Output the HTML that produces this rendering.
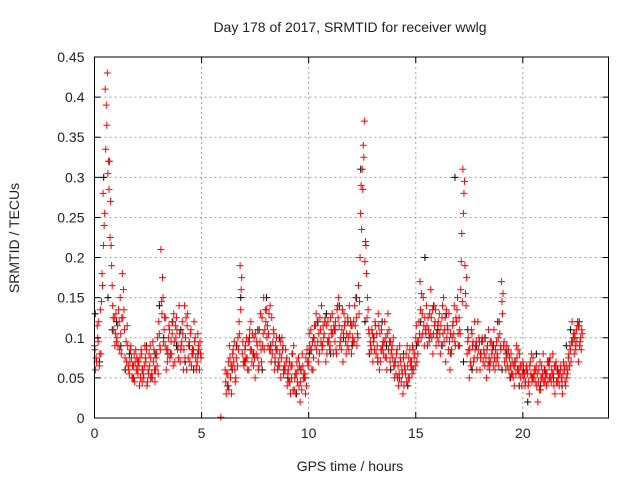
<!DOCTYPE html>
<html><head><meta charset="utf-8"><style>
body{margin:0;background:#fff;}
svg text{font-family:"Liberation Sans",sans-serif;fill:#222;}
</style></head><body>
<svg id="chart" width="640" height="480" xmlns="http://www.w3.org/2000/svg">
<text x="350" y="32" font-size="14" text-anchor="middle">Day 178 of 2017, SRMTID for receiver wwlg</text>
<text x="350" y="471" font-size="14" text-anchor="middle">GPS time / hours</text>
<text x="19" y="238" font-size="14" text-anchor="middle" transform="rotate(-90 19 238)">SRMTID / TECUs</text>
<g id="grid"></g><g id="blk"></g><g id="red"></g><g id="axes"></g>
</svg>
<script>
const xTicks=[0,5,10,15,20];
const yTicks=[0,0.05,0.1,0.15,0.2,0.25,0.3,0.35,0.4,0.45];
const yTickLabels=["0","0.05","0.1","0.15","0.2","0.25","0.3","0.35","0.4","0.45"];
const redStepHours=0.1;
const redAValues=[.09,.07,.12,.08,.28,.41,.43,.32,.19,.11,
.13,.09,.15,.18,.11,.07,.06,.09,.05,.07,
.06,.04,.08,.05,.07,.06,.09,.05,.06,.08,
.12,.21,.15,.09,.07,.11,.08,.13,.10,.09,
.07,.12,.14,.06,.09,.11,.08,.10,.07,.06,
null,null,null,null,null,null,null,null,null,.001,
null,.06,.04,.09,.03,.07,.05,.10,.19,.08,
.07,.10,.06,.12,.08,.05,.09,.11,.07,.15,
.12,.09,.14,.08,.06,.10,.07,.05,.09,.06,
.04,.07,.05,.09,.03,.06,.02,.08,.05,.04,
.07,.11,.06,.09,.12,.08,.14,.10,.07,.12,
.09,.13,.11,.08,.15,.10,.07,.12,.09,.14,
.08,.12,.15,.10,.20,.31,.37,.18,.11,.09,
.07,.12,.09,.06,.11,.08,.10,.13,.07,.09,
.05,.08,.04,.07,.03,.06,.09,.05,.07,.06,
.10,.08,.17,.13,.09,.14,.11,.16,.08,.12,
.10,.13,.09,.15,.07,.11,.06,.10,.14,.12,
.09,.16,.31,.19,.08,.05,.11,.07,.09,.12,
.06,.10,.08,.05,.11,.07,.09,.06,.08,.12,
.17,.09,.06,.08,.05,.07,.04,.09,.06,.05,
.07,.04,.06,.03,.08,.05,.06,.02,.07,.05,
.06,.04,.07,.05,.08,.03,.06,.04,.05,.07,
.04,.06,.09,.12,.08,.11,.07,.10];
const redBValues=[.06,.10,.08,.18,.24,.39,.32,.27,.14,.09,
.10,.12,.08,.16,.06,.09,.07,.05,.08,.06,
.07,.05,.06,.09,.04,.08,.05,.07,.06,.10,
.09,.13,.11,.06,.10,.08,.12,.07,.11,.14,
.09,.06,.10,.13,.07,.08,.12,.06,.09,.08,
null,null,null,null,null,null,null,null,null,null,
null,.03,.07,.05,.08,.06,.09,.12,.16,.07,
.09,.06,.11,.07,.10,.08,.06,.13,.09,.11,
.10,.13,.07,.11,.09,.06,.08,.10,.06,.07,
.06,.03,.08,.05,.07,.04,.06,.05,.03,.07,
.09,.06,.10,.13,.07,.11,.09,.12,.08,.10,
.11,.08,.12,.14,.09,.11,.13,.08,.10,.12,
.10,.14,.09,.13,.29,.34,.22,.15,.08,.11,
.10,.08,.13,.07,.09,.12,.06,.11,.08,.10,
.07,.05,.09,.06,.04,.08,.05,.07,.09,.08,
.07,.12,.10,.15,.11,.09,.13,.10,.14,.09,
.12,.08,.14,.11,.10,.13,.08,.12,.09,.15,
.11,.23,.28,.14,.10,.07,.09,.12,.06,.10,
.08,.07,.10,.09,.06,.08,.11,.07,.10,.09,
.13,.07,.09,.06,.08,.05,.07,.06,.08,.04,
.05,.06,.04,.07,.05,.06,.04,.06,.05,.08,
.05,.07,.05,.06,.04,.07,.05,.06,.03,.06,
.05,.08,.07,.10,.09,.12,.09,.11];
const redCValues=[.085,.115,.065,.145,.215,.335,.305,.225,.165,.125,
.095,.135,.105,.125,.075,.115,.055,.075,.065,.085,
.055,.075,.045,.065,.085,.055,.075,.095,.045,.065,
.105,.145,.095,.125,.085,.075,.105,.095,.125,.075,
.085,.105,.075,.115,.095,.065,.085,.075,.105,.095,
null,null,null,null,null,null,null,null,null,null,
null,.045,.055,.075,.065,.095,.075,.085,.135,.095,
.085,.075,.095,.085,.065,.105,.075,.095,.125,.085,
.135,.105,.085,.095,.075,.085,.065,.075,.055,.085,
.055,.045,.065,.035,.055,.075,.045,.065,.055,.085,
.105,.085,.075,.115,.095,.125,.085,.105,.115,.095,
.125,.105,.095,.135,.115,.085,.105,.095,.125,.105,
.115,.095,.125,.165,.255,.285,.195,.125,.105,.085,
.095,.115,.075,.105,.085,.095,.075,.085,.095,.075,
.065,.085,.055,.045,.075,.055,.065,.085,.055,.075,
.115,.095,.135,.105,.125,.115,.095,.125,.105,.135,
.115,.105,.125,.095,.135,.085,.105,.115,.095,.135,
.125,.195,.255,.155,.095,.085,.105,.075,.095,.085,
.075,.095,.065,.085,.075,.095,.065,.085,.075,.105,
.145,.095,.075,.085,.065,.055,.065,.075,.055,.065,
.065,.045,.055,.065,.045,.055,.065,.045,.035,.055,
.045,.055,.065,.045,.055,.065,.045,.055,.045,.065,
.065,.075,.085,.095,.105,.095,.115,.085];
const redDValues=[.075,.095,.135,.165,.255,.365,.285,.215,.125,.105,
.115,.085,.125,.135,.095,.065,.085,.065,.045,.075,
.065,.085,.055,.075,.045,.065,.055,.085,.075,.055,
.085,.175,.125,.085,.115,.095,.065,.115,.085,.105,
.095,.085,.125,.075,.105,.085,.095,.065,.085,.075,
null,null,null,null,null,null,null,null,null,null,
null,.055,.035,.065,.085,.045,.065,.105,.175,.065,
.075,.095,.085,.105,.075,.095,.065,.085,.105,.135,
.115,.085,.125,.105,.085,.065,.095,.085,.065,.075,
.045,.065,.035,.055,.045,.065,.035,.055,.075,.065,
.085,.095,.115,.085,.105,.095,.115,.125,.095,.085,
.105,.115,.085,.125,.095,.135,.115,.105,.085,.115,
.095,.115,.105,.145,.235,.325,.215,.135,.095,.105,
.085,.105,.115,.085,.095,.075,.105,.095,.085,.065,
.055,.065,.075,.055,.065,.045,.075,.065,.085,.065,
.095,.105,.155,.115,.105,.125,.105,.135,.115,.105,
.095,.115,.105,.125,.115,.095,.085,.105,.125,.105,
.105,.145,.295,.175,.085,.065,.095,.085,.075,.095,
.095,.085,.075,.065,.095,.085,.075,.095,.065,.085,
.155,.085,.065,.075,.055,.065,.055,.085,.065,.055,
.055,.065,.045,.055,.075,.045,.055,.035,.065,.045,
.055,.045,.075,.055,.065,.045,.055,.065,.055,.045,
.055,.065,.095,.105,.085,.115,.095,.105];
const blackStepHours=0.2;
const blackValues=[.13,.07,.30,.15,.11,.12,.09,.06,.08,.05,
.07,.06,.09,.05,.08,.14,.10,.08,.12,.09,
.11,.07,.09,.06,.08,null,null,null,null,null,
null,.04,.06,.09,.15,.07,.10,.08,.11,.06,
.15,.09,.07,.10,.06,.05,.08,.03,.06,.05,
.08,.10,.12,.09,.13,.08,.11,.14,.10,.12,
.09,.15,.31,.12,.08,.10,.07,.12,.09,.06,
.07,.05,.08,.04,.06,.09,.12,.20,.10,.14,
.11,.09,.13,.08,.30,.09,.07,.11,.06,.09,
.08,.10,.07,.09,.12,.06,.08,.05,.07,.04,
.06,.02,.05,.08,.04,.06,.07,.05,.06,.04,
.09,.11,.10,.12];

const L=94.5,R=608.5,T=57,B=418,XMAX=24,YMAX=0.45;
const xs=v=>L+(R-L)*v/XMAX, ys=v=>B-(B-T)*v/YMAX;
const NS="http://www.w3.org/2000/svg";
function mk(tag,attrs,parent){const e=document.createElementNS(NS,tag);for(const k in attrs)e.setAttribute(k,attrs[k]);parent.appendChild(e);return e;}
const grid=document.getElementById('grid'),axes=document.getElementById('axes');
xTicks.forEach(t=>{
  const x=xs(t);
  if(t>0){const g=mk('line',{x1:x,x2:x,y1:T,y2:B,stroke:'#a0a0a0','stroke-dasharray':'2,3'},grid);
  
  }
  mk('line',{x1:x,x2:x,y1:B,y2:B-6,stroke:'#000'},axes);
  mk('line',{x1:x,x2:x,y1:T,y2:T+6,stroke:'#000'},axes);
  const tx=mk('text',{x:x,y:B+20,'font-size':14,'text-anchor':'middle'},axes);
  tx.textContent=t;
  
  
});
yTicks.forEach((t,i)=>{
  const y=ys(t);
  if(i>0&&i<yTicks.length-1){const g=mk('line',{x1:L,x2:R,y1:y,y2:y,stroke:'#a0a0a0','stroke-dasharray':'2,3'},grid);
  
  }
  mk('line',{x1:L,x2:L+6,y1:y,y2:y,stroke:'#000'},axes);
  mk('line',{x1:R,x2:R-6,y1:y,y2:y,stroke:'#000'},axes);
  const tx=mk('text',{x:L-10,y:y+5,'font-size':14,'text-anchor':'end'},axes);
  tx.textContent=yTickLabels[i];
  
  
});
const fr=mk('rect',{x:L,y:T,width:R-L,height:B-T,fill:'none',stroke:'#000'},axes);


function plus(g,t,v,col,name){
  const x=xs(t),y=ys(v);
  const p=mk('path',{d:`M${x-3.5} ${y}h7M${x} ${y-3.5}v7`,stroke:col,'stroke-width':1,fill:'none'},g);
  
  
}
const blk=document.getElementById('blk'),red=document.getElementById('red');
blackValues.forEach((v,i)=>{if(v!==null)plus(blk,i*blackStepHours+0.03,v,'#000','black-point');});
redAValues.forEach((v,i)=>{if(v!==null)plus(red,i*redStepHours,v,'#f00','red-point');});
redBValues.forEach((v,i)=>{if(v!==null)plus(red,i*redStepHours+0.05,v,'#f00','red-point');});
redCValues.forEach((v,i)=>{if(v!==null)plus(red,i*redStepHours+0.025,v,'#f00','red-point');});
redDValues.forEach((v,i)=>{if(v!==null)plus(red,i*redStepHours+0.075,v,'#f00','red-point');});
</script>
</body></html>
